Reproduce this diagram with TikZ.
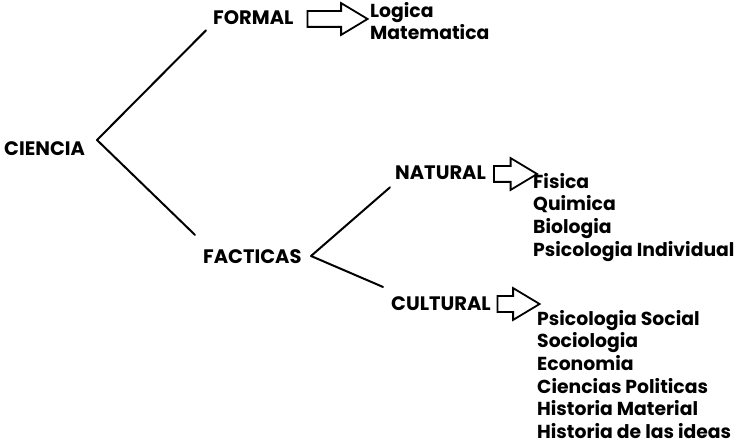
\documentclass[tikz,border=0pt]{standalone}
\usepackage{fontspec}
\setmainfont{Poppins}
\usetikzlibrary{shapes.arrows,positioning}
\tikzset{
  head/.style={inner sep=1pt,font=\fontsize{19.5}{22}\selectfont\bfseries},
  items/.style={inner sep=0pt,align=left,anchor=north west,
                font=\fontsize{18.8}{22.6}\selectfont\bfseries},
  branch/.style={line width=2pt,line cap=round,line join=round},
  blockarr/.style={single arrow,draw,line width=1.8pt,inner sep=0pt,
                   minimum height=#1,minimum width=30pt,
                   single arrow head extend=8pt,single arrow tip angle=62,
                   text height=14pt},
}
\begin{document}
\begin{tikzpicture}[x=1pt,y=-1pt]
  \useasboundingbox (0,0) rectangle (736,446);

  % main headings
  \node[head,anchor=base west] (ciencia)  at (3,156)   {CIENCIA};
  \node[head,anchor=base west] (formal)   at (212,25)  {FORMAL};
  \node[head,anchor=base west] (facticas) at (202,264) {FACTICAS};
  \node[head,anchor=base west] (natural)  at (394,180) {NATURAL};
  \node[head,anchor=base west] (cultural) at (390,310) {CULTURAL};

  % junctions
  \coordinate (jc) at (97,140);
  \coordinate (jf) at (311,256);

  \draw[branch] (formal.south west) ++(-6,4) coordinate (fe) -- (jc)
                -- ([shift={(-7,-14)}]facticas.north west);
  \draw[branch] ([shift={(-4,6)}]natural.south west) -- (jf)
                -- ([shift={(-7,-8)}]cultural.north west);

  % block arrows
  \node[blockarr=60pt] (afor) at (331,19)  {};
  \node[blockarr=43pt] (anat) at (509,174) {};
  \node[blockarr=42pt] (acul) at (512,304) {};

  % lists
  \node[items] (lfor) at (370,2)   {Logica\\Matematica};
  \node[items] (lnat) at (533,173) {Fisica\\Quimica\\Biologia\\Psicologia Individual};
  \node[items] (lcul) at (537,310) {Psicologia Social\\Sociologia\\Economia\\Ciencias Politicas\\Historia Material\\Historia de las ideas};
\end{tikzpicture}
\end{document}
